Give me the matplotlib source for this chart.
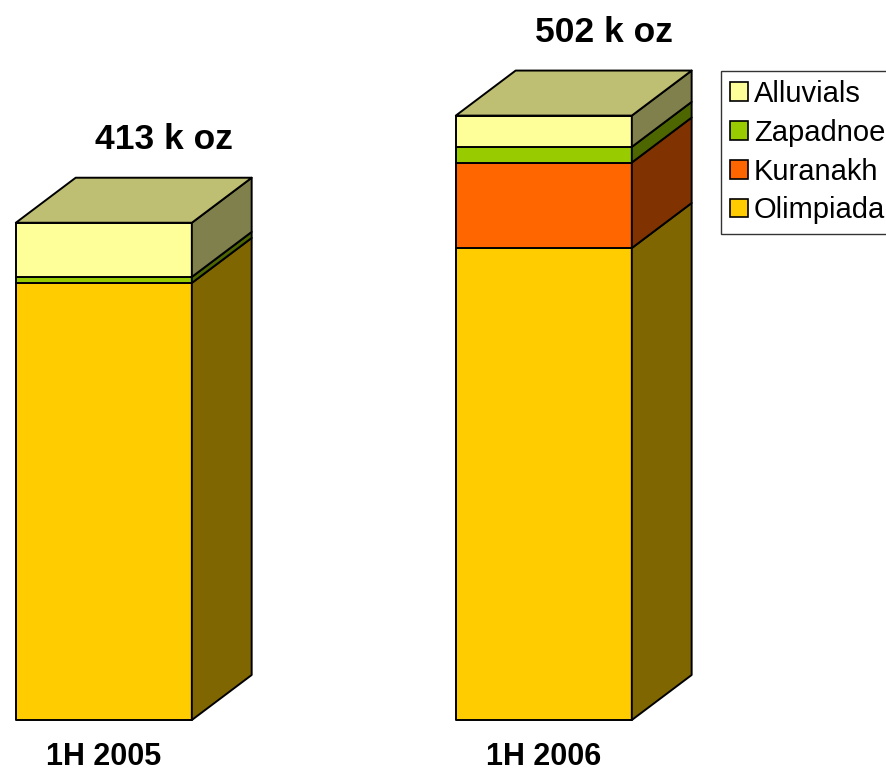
import matplotlib
matplotlib.use('Agg')
import matplotlib.pyplot as plt
from matplotlib.patches import Polygon, Patch

plt.rcParams['font.family'] = ['Liberation Sans', 'DejaVu Sans']

# data, k oz
periods = ['1H 2005', '1H 2006']
olimpiada = [363, 392]
kuranakh = [0, 71]
zapadnoe = [5, 13]
alluvials = [45, 26]
total_labels = ['413 k oz', '502 k oz']

series = [('Olimpiada', olimpiada, '#FFCC00', '#806600'),
          ('Kuranakh', kuranakh, '#FF6600', '#803300'),
          ('Zapadnoe', zapadnoe, '#99CC00', '#4D6600'),
          ('Alluvials', alluvials, '#FFFF99', '#80804D')]
top_colour = '#BFBF73'

w = 0.4          # front width
dx = 0.136       # depth offset x
dy = 37.4        # depth offset y (k oz)
lw = 1.4

fig = plt.figure(figsize=(8.87, 7.73), dpi=100)
ax = fig.add_axes([0, 0, 1, 1])
ax.set_xlim(-0.236, 1.78)
ax.set_ylim(-44, 598)
ax.axis('off')

for i in range(len(periods)):
    base = 0
    for name, vals, col, side in series:
        v = vals[i]
        if v <= 0:
            continue
        t = base + v
        l, r = i - w/2, i + w/2
        ax.add_patch(Polygon([(l, base), (r, base), (r, t), (l, t)], closed=True,
                             facecolor=col, edgecolor='black', lw=lw, joinstyle='round'))
        ax.add_patch(Polygon([(r, base), (r+dx, base+dy), (r+dx, t+dy), (r, t)], closed=True,
                             facecolor=side, edgecolor='black', lw=lw, joinstyle='round'))
        base = t
    l, r = i - w/2, i + w/2
    ax.add_patch(Polygon([(l, base), (l+dx, base+dy), (r+dx, base+dy), (r, base)], closed=True,
                         facecolor=top_colour, edgecolor='black', lw=lw, joinstyle='round'))
    ax.text(i + dx, base + dy + 24, total_labels[i], ha='center', va='baseline',
            fontsize=25.5, fontweight='bold')
    ax.text(i, -31, periods[i], ha='center', va='center', fontsize=22, fontweight='bold')

handles = [Patch(facecolor=col, edgecolor='black', lw=1.2, label=name)
           for name, vals, col, side in series[::-1]]
leg = ax.legend(handles=handles, loc='upper left', bbox_to_anchor=(721/887, 1 - 70.7/773),
                bbox_transform=fig.transFigure, borderaxespad=0, fontsize=21,
                handlelength=0.6, handleheight=0.6, handletextpad=0.2,
                borderpad=0.32, labelspacing=0.37, fancybox=False, frameon=True)
leg.get_frame().set_edgecolor('black')
leg.get_frame().set_linewidth(1.0)

plt.savefig('out.png', dpi=100)
